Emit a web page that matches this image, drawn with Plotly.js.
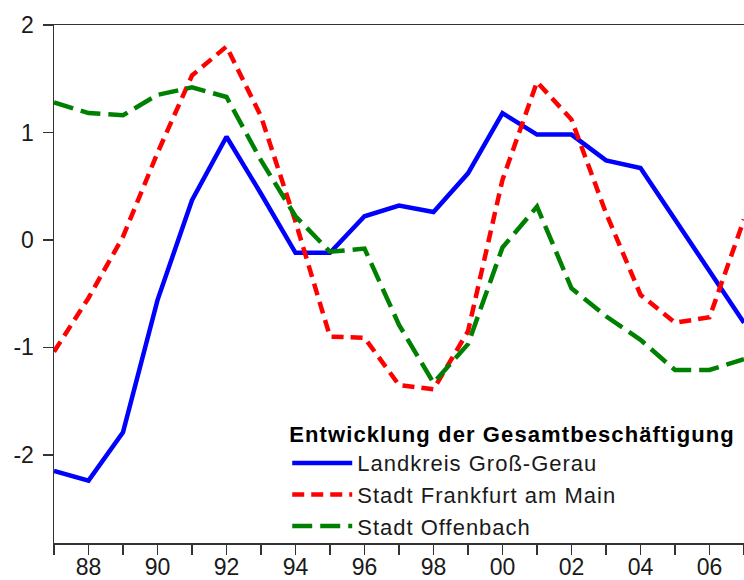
<!DOCTYPE html>
<html>
<head>
<meta charset="utf-8">
<script src="https://cdn.plot.ly/plotly-3.0.1.min.js"></script>
<style>
html,body{margin:0;padding:0;background:#fff;}
#chart{width:744px;height:580px;}
.legendtext{letter-spacing:1px;}
.legendtitletext{letter-spacing:1.1px;}
</style>
</head>
<body>
<div id="chart"></div>
<script>
const years = [1987,1988,1989,1990,1991,1992,1993,1994,1995,1996,1997,1998,1999,2000,2001,2002,2003,2004,2005,2006,2007];
const grossGerau = [-2.15,-2.24,-1.79,-0.56,0.37,0.96,0.43,-0.12,-0.12,0.22,0.32,0.26,0.62,1.18,0.98,0.98,0.74,0.67,0.19,-0.29,-0.77];
const frankfurt = [-1.04,-0.54,0.03,0.81,1.53,1.80,1.15,0.17,-0.90,-0.91,-1.35,-1.39,-0.85,0.56,1.47,1.12,0.25,-0.51,-0.77,-0.72,0.19];
const offenbach = [1.28,1.18,1.16,1.35,1.42,1.33,0.74,0.22,-0.11,-0.08,-0.79,-1.33,-0.97,-0.07,0.31,-0.45,-0.71,-0.93,-1.21,-1.21,-1.11];
const seriesNames = ['Landkreis Groß-Gerau','Stadt Frankfurt am Main','Stadt Offenbach'];
const legendTitle = 'Entwicklung der Gesamtbeschäftigung';
const xTickVals = years;
const xTickText = ['','88','','90','','92','','94','','96','','98','','00','','02','','04','','06',''];
const yTickVals = [-2,-1,0,1,2];
const yTickText = ['-2','-1','0','1','2'];

const FONT = 'Liberation Sans, Arial, sans-serif';
const traces = [
  {x: years, y: grossGerau, name: seriesNames[0], mode: 'lines', line: {color: '#0000FF', width: 4.5}},
  {x: years, y: frankfurt, name: seriesNames[1], mode: 'lines', line: {color: '#FF0000', width: 4.5, dash: '12px,7px'}},
  {x: years, y: offenbach, name: seriesNames[2], mode: 'lines', line: {color: '#008000', width: 4.5, dash: '20px,8px'}}
];
const layout = {
  width: 744, height: 580,
  margin: {l: 54, r: 0, t: 25, b: 37, pad: 0},
  paper_bgcolor: '#fff', plot_bgcolor: '#fff',
  font: {family: FONT, color: '#1a1a1a', size: 23},
  showlegend: true,
  legend: {
    x: 0.338, xanchor: 'left', y: 0.25, yanchor: 'top',
    bgcolor: 'rgba(0,0,0,0)', borderwidth: 0,
    font: {family: FONT, size: 22, color: '#1a1a1a'},
    title: {text: legendTitle, side: 'top', font: {family: FONT, size: 22, color: '#000', weight: 'bold'}},
    itemwidth: 60, tracegroupgap: 0
  },
  xaxis: {
    range: [1987, 2007], showgrid: false, zeroline: false,
    showline: true, linecolor: '#333', linewidth: 1.5, mirror: true,
    ticks: 'outside', ticklen: 10, tickwidth: 1.5, tickcolor: '#333',
    tickmode: 'array', tickvals: xTickVals, ticktext: xTickText,
    ticklabelstandoff: -7,
    tickfont: {family: FONT, size: 23, color: '#1a1a1a'}
  },
  yaxis: {
    range: [-2.82, 2.0], showgrid: false, zeroline: false,
    showline: true, linecolor: '#333', linewidth: 1.5,
    ticks: 'outside', ticklen: 10, tickwidth: 1.5, tickcolor: '#333',
    tickmode: 'array', tickvals: yTickVals, ticktext: yTickText,
    ticklabelstandoff: 4,
    tickfont: {family: FONT, size: 23, color: '#1a1a1a'}
  }
};
Plotly.newPlot('chart', traces, layout, {displayModeBar: false, staticPlot: true});
</script>
</body>
</html>
